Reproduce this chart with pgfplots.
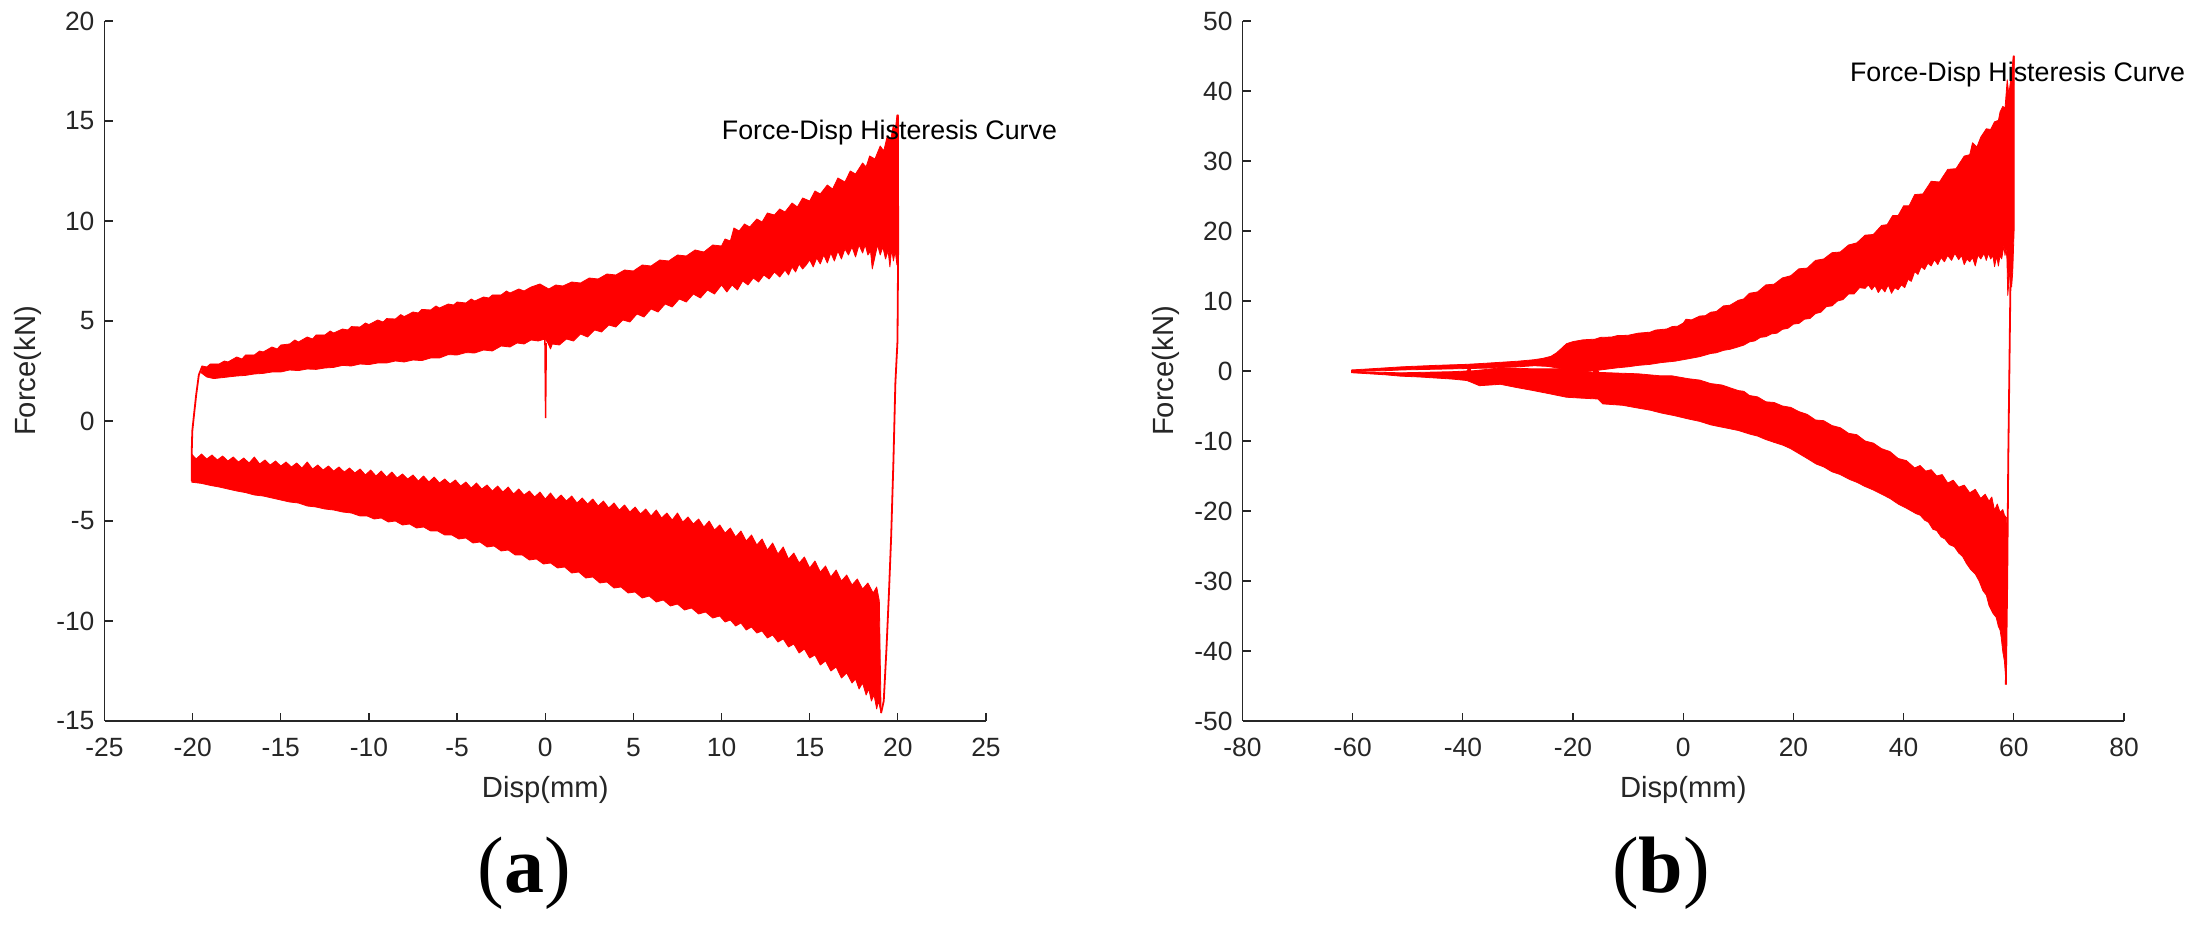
\documentclass[border=0pt]{standalone}
\usepackage{fontspec}
\setmainfont{Liberation Sans}
\newfontfamily\seriffont{Liberation Serif}
\usepackage{pgfplots}
\pgfplotsset{compat=1.18}
\definecolor{axgray}{RGB}{38,38,38}
\pgfplotsset{
 hyst/.style={
  scale only axis, width=440.75pt, height=350pt,
  anchor=south west,
  axis x line*=bottom, axis y line*=left,
  axis line style={-, draw=axgray, line width=0.6pt},
  tick align=inside, major tick length=4pt,
  tick style={draw=axgray, line width=0.6pt},
  ticklabel style={font=\fontsize{13.2}{15}\selectfont, text=axgray},
  xticklabel style={yshift=-5pt},
  yticklabel style={xshift=-1.5pt},
  label style={font=\fontsize{14.6}{17}\selectfont, text=axgray},
  xlabel style={at={(axis description cs:0.5,-0.0986)}, anchor=center},
  ylabel style={at={(axis description cs:-0.0868,0.5)}, anchor=center},
  xlabel={Disp(mm)}, ylabel={Force(kN)},
  clip=false,
 },
 band/.style={fill=red, draw=red, line width=0.4pt, line join=round},
 thin/.style={draw=red, line width=0.9pt, line join=round},
}
\begin{document}
\begin{tikzpicture}
\useasboundingbox (0,0) rectangle (1098pt,463pt);
% ---------------- (a) ----------------
\begin{axis}[hyst, at={(52.25pt,102.5pt)},
  xmin=-25, xmax=25, ymin=-15, ymax=20,
  xtick={-25,-20,-15,-10,-5,0,5,10,15,20,25},
  xticklabels={-25,-20,-15,-10,-5,0,5,10,15,20,25},
  ytick={-15,-10,-5,0,5,10,15,20},
  yticklabels={-15,-10,-5,0,5,10,15,20}]
% upper band
\addplot[band] coordinates {
(-19.45,2.75) (-19.2,2.7) (-19.0,2.85) (-18.5,2.85) (-18.2,3.0) (-18.0,2.95) (-17.5,3.2) (-17.2,3.1) (-17.0,3.3) (-16.5,3.3) (-16.2,3.5) (-16.0,3.45) (-15.5,3.7) (-15.2,3.6) (-15.0,3.8) (-14.5,3.85) (-14.2,4.05) (-14.0,3.95) (-13.5,4.2) (-13.2,4.1) (-13.0,4.3) (-12.5,4.3) (-12.2,4.5) (-12.0,4.4) (-11.5,4.6) (-11.2,4.55) (-11.0,4.72) (-10.5,4.7) (-10.2,4.9) (-10.0,4.82) (-9.5,5.05) (-9.2,4.95) (-9.0,5.12) (-8.5,5.1) (-8.2,5.32) (-8.0,5.22) (-7.5,5.45) (-7.2,5.4) (-7.0,5.58) (-6.5,5.55) (-6.2,5.75) (-6.0,5.65) (-5.5,5.85) (-5.2,5.8) (-5.0,5.95) (-4.5,5.9) (-4.2,6.1) (-4.0,6.0) (-3.5,6.2) (-3.2,6.15) (-3.0,6.3) (-2.5,6.3) (-2.2,6.5) (-2.0,6.4) (-1.5,6.6) (-1.2,6.5) (-0.8,6.7) (-0.3,6.85) (0.2,6.6) (0.6,6.8) (1.0,6.75) (1.5,6.95) (2.0,6.9) (2.5,7.15) (3.0,7.1) (3.5,7.35) (4.0,7.3) (4.5,7.55) (5.0,7.5) (5.5,7.8) (6.0,7.75) (6.5,8.05) (7.0,8.0) (7.5,8.3) (8.0,8.25) (8.5,8.55) (9.0,8.45) (9.5,8.8) (10.0,8.75) (10.2,9.1) (10.5,9.0) (10.7,9.65) (11.0,9.5) (11.3,9.85) (11.6,9.7) (12.0,10.1) (12.3,9.95) (12.6,10.4) (13.0,10.3) (13.3,10.6) (13.6,10.45) (14.0,10.9) (14.3,10.7) (14.6,11.15) (15.0,11.0) (15.3,11.5) (15.6,11.35) (16.0,11.8) (16.3,11.6) (16.6,12.15) (17.0,11.95) (17.3,12.5) (17.6,12.35) (18.0,12.9) (18.2,12.7) (18.4,13.25) (18.7,13.1) (19.0,13.75) (19.2,13.5) (19.4,14.25) (19.6,14.1) (19.75,14.8) (19.85,14.5) (19.95,15.3) (20.02,15.3)
(20.02,8.2) (19.95,7.8) (19.85,8.5) (19.75,8.0) (19.65,8.6) (19.55,7.7) (19.45,8.5) (19.3,8.1) (19.15,8.7) (19.0,8.3) (18.85,8.8) (18.7,8.2) (18.55,7.6) (18.45,8.5) (18.3,8.3) (18.15,8.8) (18.0,8.4) (17.8,8.8) (17.6,8.2) (17.4,8.7) (17.2,8.3) (17.0,8.6) (16.8,8.1) (16.6,8.5) (16.4,8.0) (16.2,8.4) (16.0,7.9) (15.8,8.3) (15.6,7.85) (15.4,8.15) (15.2,7.7) (15.0,8.05) (14.8,7.8) (14.6,7.6) (14.4,7.85) (14.2,7.45) (14.0,7.7) (13.8,7.3) (13.6,7.55) (13.3,7.2) (13.0,7.45) (12.7,7.1) (12.4,7.3) (12.1,6.95) (11.8,7.15) (11.5,6.8) (11.2,7.0) (10.9,6.55) (10.6,6.8) (10.3,6.45) (10.0,6.8) (9.6,6.35) (9.2,6.55) (8.8,6.15) (8.4,6.35) (8.0,5.95) (7.6,6.1) (7.2,5.7) (6.8,5.85) (6.4,5.45) (6.0,5.6) (5.6,5.2) (5.2,5.35) (4.8,4.95) (4.4,5.05) (4.0,4.7) (3.6,4.8) (3.2,4.45) (2.8,4.55) (2.4,4.2) (2.0,4.35) (1.6,4.0) (1.2,4.1) (0.8,3.8) (0.4,3.85) (0.3,3.6) (0.15,3.9) (0.0,4.1) (-0.4,4.0) (-0.8,4.05) (-1.2,3.85) (-1.6,3.9) (-2.0,3.7) (-2.5,3.75) (-3.0,3.5) (-3.5,3.55) (-4.0,3.4) (-4.5,3.42) (-5.0,3.3) (-5.5,3.32) (-6.0,3.15) (-6.5,3.15) (-7.0,3.02) (-7.5,3.05) (-8.0,2.95) (-8.5,3.0) (-9.0,2.9) (-9.5,2.9) (-10.0,2.82) (-10.5,2.85) (-11.0,2.75) (-11.5,2.78) (-12.0,2.68) (-12.5,2.65) (-13.0,2.58) (-13.5,2.6) (-14.0,2.52) (-14.5,2.55) (-15.0,2.45) (-15.5,2.45) (-16.0,2.38) (-16.5,2.35) (-17.0,2.28) (-17.5,2.25) (-18.0,2.2) (-18.5,2.15) (-18.8,2.12) (-19.2,2.2) (-19.5,2.4)
} -- cycle;
% lower band
\addplot[band] coordinates {
(-20.05,-1.66) (-19.8,-1.9) (-19.5,-1.65) (-19.2,-1.9) (-18.9,-1.7) (-18.6,-1.95) (-18.3,-1.75) (-18.0,-2.0) (-17.7,-1.8) (-17.4,-2.05) (-17.1,-1.85) (-16.8,-2.1) (-16.5,-1.8) (-16.2,-2.15) (-15.9,-1.95) (-15.6,-2.2) (-15.3,-2.0) (-15.0,-2.25) (-14.7,-2.05) (-14.4,-2.3) (-14.1,-2.1) (-13.8,-2.35) (-13.5,-2.05) (-13.2,-2.4) (-12.9,-2.2) (-12.6,-2.45) (-12.3,-2.25) (-12.0,-2.5) (-11.7,-2.3) (-11.4,-2.55) (-11.1,-2.35) (-10.8,-2.6) (-10.5,-2.4) (-10.2,-2.7) (-9.9,-2.45) (-9.6,-2.75) (-9.3,-2.5) (-9.0,-2.8) (-8.7,-2.55) (-8.4,-2.85) (-8.1,-2.65) (-7.8,-2.9) (-7.5,-2.7) (-7.2,-3.0) (-6.9,-2.75) (-6.6,-3.05) (-6.3,-2.8) (-6.0,-3.1) (-5.7,-2.9) (-5.4,-3.15) (-5.1,-2.95) (-4.8,-3.25) (-4.5,-3.05) (-4.2,-3.35) (-3.9,-3.1) (-3.6,-3.4) (-3.3,-3.2) (-3.0,-3.5) (-2.7,-3.25) (-2.4,-3.55) (-2.1,-3.3) (-1.8,-3.65) (-1.5,-3.4) (-1.2,-3.7) (-0.9,-3.5) (-0.6,-3.8) (-0.3,-3.55) (0.0,-3.9) (0.3,-3.6) (0.6,-3.95) (0.9,-3.7) (1.2,-4.0) (1.5,-3.75) (1.8,-4.1) (2.1,-3.85) (2.4,-4.15) (2.7,-3.9) (3.0,-4.25) (3.3,-4.0) (3.6,-4.35) (3.9,-4.1) (4.2,-4.45) (4.5,-4.2) (4.8,-4.55) (5.1,-4.3) (5.4,-4.65) (5.7,-4.4) (6.0,-4.75) (6.3,-4.45) (6.6,-4.85) (6.9,-4.6) (7.2,-4.95) (7.5,-4.6) (7.8,-5.05) (8.1,-4.8) (8.4,-5.15) (8.7,-4.9) (9.0,-5.3) (9.3,-5.0) (9.6,-5.45) (9.9,-5.2) (10.2,-5.6) (10.5,-5.35) (10.8,-5.8) (11.1,-5.5) (11.4,-6.0) (11.7,-5.7) (12.0,-6.2) (12.3,-5.9) (12.6,-6.45) (12.9,-6.1) (13.2,-6.65) (13.5,-6.3) (13.8,-6.9) (14.1,-6.6) (14.4,-7.1) (14.7,-6.8) (15.0,-7.35) (15.3,-7.0) (15.6,-7.55) (15.9,-7.25) (16.2,-7.8) (16.5,-7.45) (16.8,-8.0) (17.1,-7.7) (17.4,-8.2) (17.7,-7.9) (18.0,-8.4) (18.3,-8.1) (18.6,-8.6) (18.8,-8.3) (18.95,-9.0)
(19.05,-14.6) (18.9,-14.0) (18.8,-14.4) (18.65,-13.7) (18.5,-14.0) (18.35,-13.4) (18.2,-13.7) (18.0,-13.1) (17.8,-13.4) (17.6,-12.9) (17.4,-13.1) (17.1,-12.6) (16.8,-12.85) (16.5,-12.3) (16.2,-12.5) (15.9,-12.0) (15.6,-12.2) (15.3,-11.7) (15.0,-11.85) (14.7,-11.4) (14.4,-11.6) (14.1,-11.15) (13.8,-11.3) (13.5,-10.9) (13.2,-11.05) (12.9,-10.7) (12.6,-10.85) (12.3,-10.5) (12.0,-10.6) (11.7,-10.3) (11.4,-10.45) (11.1,-10.1) (10.8,-10.25) (10.5,-9.95) (10.2,-10.05) (9.9,-9.75) (9.5,-9.85) (9.1,-9.55) (8.7,-9.65) (8.3,-9.35) (7.9,-9.45) (7.5,-9.15) (7.1,-9.25) (6.7,-8.95) (6.3,-9.05) (5.9,-8.75) (5.5,-8.85) (5.1,-8.55) (4.7,-8.6) (4.3,-8.3) (3.9,-8.35) (3.5,-8.05) (3.1,-8.1) (2.7,-7.8) (2.3,-7.85) (1.9,-7.55) (1.5,-7.6) (1.1,-7.3) (0.7,-7.35) (0.3,-7.1) (-0.1,-7.15) (-0.5,-6.9) (-0.9,-6.95) (-1.3,-6.7) (-1.7,-6.7) (-2.1,-6.45) (-2.5,-6.5) (-2.9,-6.25) (-3.3,-6.3) (-3.7,-6.05) (-4.1,-6.1) (-4.5,-5.85) (-4.9,-5.9) (-5.3,-5.7) (-5.7,-5.7) (-6.1,-5.5) (-6.5,-5.5) (-6.9,-5.3) (-7.3,-5.35) (-7.7,-5.15) (-8.1,-5.2) (-8.5,-5.0) (-8.9,-5.05) (-9.3,-4.85) (-9.7,-4.9) (-10.1,-4.75) (-10.5,-4.75) (-11.0,-4.6) (-11.5,-4.55) (-12.0,-4.45) (-12.5,-4.4) (-13.0,-4.3) (-13.5,-4.25) (-14.0,-4.1) (-14.5,-4.05) (-15.0,-3.95) (-15.5,-3.85) (-16.0,-3.75) (-16.5,-3.7) (-17.0,-3.58) (-17.5,-3.5) (-18.0,-3.4) (-18.5,-3.3) (-19.0,-3.22) (-19.5,-3.12) (-20.05,-3.06)
} -- cycle;
% initial loading line
\addplot[thin] coordinates {(-20.05,-3.0) (-20.05,-1.5) (-20.02,-0.5) (-19.9,0.5) (-19.8,1.3) (-19.65,2.3) (-19.45,2.75)};
% spike at zero
\addplot[draw=red, line width=0.7pt] coordinates {(-0.02,4.1) (0.02,0.15) (0.06,3.9)};
% unloading line
\addplot[thin] coordinates {(20.0,15.3) (20.02,9.0) (19.98,4.0) (19.86,1.9) (19.75,-2.0) (19.62,-5.8) (19.5,-8.5) (19.36,-11.3) (19.2,-14.0) (19.05,-14.6)};
\node[anchor=west, font=\fontsize{13.4}{15}\selectfont, text=black, inner sep=0pt] at (axis cs:10.0,14.4) {Force-Disp Histeresis Curve};
\node[font=\seriffont\fontsize{40}{48}\selectfont, text=black] at (axis description cs:0.476,-0.217) {(\textbf{a})};
\end{axis}
% ---------------- (b) ----------------
\begin{axis}[hyst, at={(621.25pt,102.5pt)},
  xmin=-80, xmax=80, ymin=-50, ymax=50,
  xtick={-80,-60,-40,-20,0,20,40,60,80},
  xticklabels={-80,-60,-40,-20,0,20,40,60,80},
  ytick={-50,-40,-30,-20,-10,0,10,20,30,40,50},
  yticklabels={-50,-40,-30,-20,-10,0,10,20,30,40,50}]
% upper branch and band
\addplot[band] coordinates {
(-60.2,0.15) (-57,0.3) (-54,0.45) (-51,0.6) (-48,0.7) (-45,0.8) (-42,0.88) (-39.3,0.95) (-36,1.1) (-33,1.25) (-30,1.4) (-27.2,1.6) (-25.5,1.8) (-24,2.1) (-23,2.6) (-22,3.3) (-21.2,3.9) (-20,4.2) (-18.2,4.45) (-16,4.55) (-15,4.8) (-13,4.85) (-12,5.05) (-10,5.1) (-8.2,5.4) (-6,5.55) (-5,5.85) (-3,6.0) (-2,6.35) (-1,6.4) (0,6.85) (0.5,7.4) (1.5,7.3) (3,7.85) (4,7.9) (5,8.4) (6,8.5) (7.3,9.3) (8.5,9.4) (10,10.1) (11,10.3) (12,11.1) (13.5,11.3) (15,12.3) (16.5,12.4) (18,13.3) (19.5,13.6) (21,14.6) (22.5,14.7) (24,15.8) (25.5,16.0) (27,16.9) (28.5,17.0) (30,18.0) (31.5,18.3) (33,19.4) (34.5,19.5) (36,20.8) (37,20.9) (38,22.2) (39,22.2) (40,23.6) (41,23.6) (42,25.2) (43.5,25.3) (45,27.1) (46.5,27.0) (48,28.8) (49.5,28.9) (51,30.7) (52,30.9) (52.5,32.6) (53.3,32.0) (54,33.4) (55,34.6) (55.8,34.5) (56.5,35.6) (57.2,35.8) (57.5,37.0) (58,37.8) (58.4,37.5) (58.8,41.6) (59.1,39.5) (59.3,40.8) (59.6,42.5) (59.9,45.0) (60.05,45.0)
(60.05,20) (59.8,14.1) (59.6,12.0) (59.45,15.5) (59.3,14.5) (58.9,10.8) (58.75,16.0) (58.6,17.5) (58.4,16.5) (58.2,17.9) (57.8,16.0) (57.5,16.5) (57.2,15.0) (56.9,16.4) (56.5,14.9) (56.2,16.5) (55.8,16.0) (55.4,16.8) (55,15.8) (54.6,16.8) (54,16.0) (53.5,16.6) (53,15.0) (52.5,16.2) (52,15.6) (51.5,16.0) (51,15.2) (50.5,16.5) (50,15.9) (49.3,16.8) (48.7,15.8) (48,16.5) (47.4,15.6) (46.8,16.2) (46.2,15.2) (45.6,15.9) (45,15.0) (44.4,15.4) (43.8,14.5) (43.2,14.9) (42.6,13.8) (42,14.2) (41.4,12.8) (40.8,13.1) (40.2,11.9) (39.6,12.3) (39,11.6) (38.4,11.9) (37.8,11.1) (37.2,12.3) (36.6,11.3) (36,11.9) (35.4,11.2) (34.8,12.2) (34.2,11.6) (33.6,12.3) (33,11.8) (32,11.9) (31,11.0) (30,11.0) (29,10.2) (28,10.0) (27,9.3) (26,9.2) (25,8.4) (24,8.2) (23,7.5) (22,7.4) (21,6.8) (20,6.7) (19,6.1) (18,5.95) (17,5.4) (16,5.3) (15,4.9) (14,4.8) (13,4.3) (12,4.15) (11,3.7) (10,3.45) (8.5,3.1) (7.3,2.95) (6,2.6) (5,2.5) (3,2.05) (0.9,1.74) (-1.5,1.4) (-4,1.2) (-6,0.95) (-8.2,0.8) (-10,0.6) (-12,0.45) (-13.5,0.3) (-15,0.15) (-16.5,0.0) (-18,-0.1) (-20,0.0) (-21.5,0.2) (-23,0.45) (-24.5,0.65) (-27,0.75) (-30,0.6) (-33,0.5) (-36,0.4) (-39.3,0.35) (-42,0.3) (-45,0.25) (-48,0.2) (-51,0.15) (-54,0.05) (-57,0.0) (-60.2,-0.1)
} -- cycle;
% lower branch and band
\addplot[band] coordinates {
(-60.2,-0.05) (-57,-0.15) (-54,-0.2) (-51.3,-0.26) (-48,-0.2) (-45,-0.15) (-42,-0.1) (-39.3,0.0) (-38.8,0.5) (-38.5,0.0) (-36,0.2) (-33.2,0.45) (-30,0.4) (-27.2,0.3) (-24,0.3) (-21.2,0.3) (-18.5,0.0) (-16.4,-0.2) (-15.8,0.5) (-15.3,-0.2) (-12,-0.3) (-8.2,-0.4) (-4,-0.7) (-2,-0.7) (0.9,-1.1) (3,-1.3) (5,-1.8) (7,-2.0) (10,-2.8) (11,-2.9) (12,-3.5) (13.5,-3.7) (15,-4.4) (16.5,-4.5) (18,-5.0) (19.5,-5.2) (21,-5.8) (22.5,-6.2) (24,-7.0) (25.5,-7.1) (27,-7.8) (28.5,-8.1) (30,-8.9) (31.5,-9.1) (33,-10.0) (34.5,-10.3) (36,-11.1) (37.5,-11.5) (39,-12.5) (40.5,-12.8) (42,-13.85) (43,-13.5) (44,-14.3) (45,-14.1) (46,-15.0) (47,-14.8) (48,-16.0) (49,-15.6) (50,-16.6) (51,-16.3) (52,-17.4) (53,-16.9) (54,-18.2) (54.8,-17.6) (55.5,-18.6) (56,-18.0) (56.5,-19.9) (57,-19.0) (57.5,-20.2) (58,-19.8) (58.3,-20.6) (58.7,-21)
(58.6,-44.8) (58.3,-41.5) (58,-40.1) (57.7,-38.0) (57.5,-37.0) (57.2,-36.5) (56.8,-35.2) (56.2,-34.6) (55.5,-33.5) (55,-32.0) (54.4,-31.4) (53.7,-30.0) (53,-29.0) (52.2,-28.4) (51.4,-27.5) (50.7,-26.5) (50,-26.0) (49.2,-25.1) (48.3,-24.8) (47.5,-24.0) (46.8,-23.7) (46,-22.8) (45.3,-22.6) (44.5,-21.6) (43.8,-21.3) (43,-20.6) (42.3,-20.4) (40.5,-19.6) (39,-19.0) (37.5,-18.2) (36.25,-17.7) (34.5,-17.0) (33,-16.5) (31.5,-15.9) (30.2,-15.5) (28.5,-14.8) (27,-14.4) (25.5,-13.7) (24.15,-13.3) (22.5,-12.5) (21,-11.8) (19.5,-11.1) (18.1,-10.6) (16.5,-10.2) (15,-9.8) (13.5,-9.3) (12,-9.0) (10,-8.5) (7.5,-8.1) (5,-7.7) (3,-7.2) (0.9,-6.85) (-1.5,-6.4) (-4,-6.0) (-6,-5.6) (-8.2,-5.3) (-11,-4.9) (-14.6,-4.7) (-15.5,-4.0) (-18,-3.9) (-21.2,-3.75) (-24,-3.3) (-27.2,-2.8) (-30,-2.4) (-33.2,-1.9) (-35,-2.0) (-37,-2.1) (-38.5,-1.6) (-39.3,-1.36) (-42,-1.15) (-45,-1.0) (-48,-0.85) (-51.3,-0.74) (-54,-0.55) (-57,-0.4) (-60.2,-0.25)
} -- cycle;
% reloading line
\addplot[thin] coordinates {(58.55,-44.8) (58.8,-30) (59.0,-12) (59.2,0.4) (59.5,20) (59.8,38.7) (60.0,45)};
\node[anchor=west, font=\fontsize{13.4}{15}\selectfont, text=black, inner sep=0pt] at (axis cs:30.2,42.3) {Force-Disp Histeresis Curve};
\node[font=\seriffont\fontsize{40}{48}\selectfont, text=black] at (axis description cs:0.4748,-0.217) {(\textbf{b})};
\end{axis}
\end{tikzpicture}
\end{document}
